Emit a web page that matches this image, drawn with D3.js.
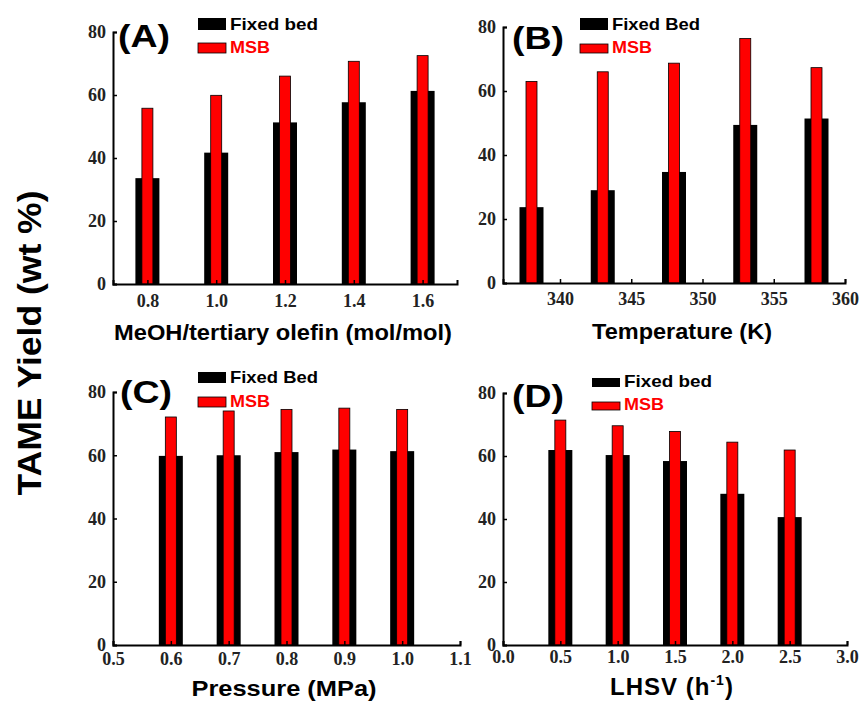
<!DOCTYPE html>
<html>
<head>
<meta charset="utf-8">
<script src="https://cdn.jsdelivr.net/npm/d3@7"></script>
<style>
  body { margin: 0; background: #fff; }
  svg { display: block; }
</style>
</head>
<body>
<div id="viz"></div>
<script>
// (A) MeOH / tertiary olefin ratio
const ratioCats = [0.8, 1.0, 1.2, 1.4, 1.6];
const ratioFixed = [33.6, 41.7, 51.3, 57.7, 61.3];
const ratioMSB = [55.8, 59.9, 66.0, 70.7, 72.5];
const ratioTicks = [0.8, 1.0, 1.2, 1.4, 1.6];

// (B) temperature
const tempCats = [338, 343, 348, 353, 358];
const tempFixed = [23.7, 29.0, 34.7, 49.4, 51.4];
const tempMSB = [63.0, 66.0, 68.7, 76.4, 67.3];
const tempTicks = [340, 345, 350, 355, 360];

// (C) pressure
const pressCats = [0.6, 0.7, 0.8, 0.9, 1.0];
const pressFixed = [59.8, 60.0, 61.0, 61.8, 61.3];
const pressMSB = [72.1, 74.0, 74.5, 74.9, 74.5];
const pressTicks = [0.5, 0.6, 0.7, 0.8, 0.9, 1.0, 1.1];

// (D) LHSV
const lhsvCats = [0.5, 1.0, 1.5, 2.0, 2.5];
const lhsvFixed = [61.9, 60.3, 58.4, 48.0, 40.6];
const lhsvMSB = [71.4, 69.6, 67.8, 64.4, 61.9];
const lhsvTicks = [0.0, 0.5, 1.0, 1.5, 2.0, 2.5, 3.0];

const yTicks = [0, 20, 40, 60, 80];

document.addEventListener("DOMContentLoaded", () => {
  const svg = d3.select("#viz")
    .append("svg")
    .attr("width", 861)
    .attr("height", 704);

  svg.append("rect").attr("width", 861).attr("height", 704).attr("fill", "#fff");

  const panels = [
    {tag: "(A)", cats: ratioCats, fixed: ratioFixed, msb: ratioMSB, ticks: ratioTicks, fmt: d3.format(".1f"),
     domain: [0.7, 1.7], x0: 113, x1: 457, y0: 32, y1: 284, pad: 10,
     title: "MeOH/tertiary olefin (mol/mol)", titleX: 283, titleY: 340, titleLen: 338,
     fixedName: "Fixed bed", leg: {x: 198, y: 18, h1: 12, y2: 43, h2: 10}, tagPos: [118, 47]},
    {tag: "(B)", cats: tempCats, fixed: tempFixed, msb: tempMSB, ticks: tempTicks, fmt: d3.format("d"),
     domain: [336, 360], x0: 503, x1: 845, y0: 27, y1: 283, pad: 9,
     title: "Temperature (K)", titleX: 682, titleY: 339, titleLen: 180,
     fixedName: "Fixed Bed", leg: {x: 580, y: 18, h1: 12, y2: 44, h2: 9}, tagPos: [512, 49]},
    {tag: "(C)", cats: pressCats, fixed: pressFixed, msb: pressMSB, ticks: pressTicks, fmt: d3.format(".1f"),
     domain: [0.5, 1.1], x0: 113, x1: 460, y0: 392, y1: 645, pad: 7,
     title: "Pressure (MPa)", titleX: 284, titleY: 696, titleLen: 185,
     fixedName: "Fixed Bed", leg: {x: 198, y: 372, h1: 11, y2: 397, h2: 10}, tagPos: [120, 403]},
    {tag: "(D)", cats: lhsvCats, fixed: lhsvFixed, msb: lhsvMSB, ticks: lhsvTicks, fmt: d3.format(".1f"),
     domain: [0, 3], x0: 503, x1: 847, y0: 393, y1: 645, pad: 5,
     title: "LHSV (h", titleX: 672, titleY: 695, titleLen: 0,
     fixedName: "Fixed bed", leg: {x: 592, y: 378, h1: 9, y2: 402, h2: 8}, tagPos: [512, 407]}
  ];

  panels.forEach(p => drawPanel(p));

  // shared y title
  svg.append("text")
    .attr("transform", "translate(41,343) rotate(-90)")
    .attr("text-anchor", "middle")
    .attr("font-family", "'Liberation Sans', Arial, sans-serif")
    .attr("font-weight", "bold")
    .attr("font-size", 34)
    .attr("textLength", 305)
    .attr("lengthAdjust", "spacingAndGlyphs")
    .text("TAME Yield (wt %)");

  function drawPanel(p) {
    const x = d3.scaleLinear().domain(p.domain).range([p.x0, p.x1]);
    const y = d3.scaleLinear().domain([0, 80]).range([p.y1, p.y0]);
    const g = svg.append("g");

    const bars = p.cats.map((c, i) => ({c: c, fixed: p.fixed[i], msb: p.msb[i]}));

    g.selectAll(".fixed")
      .data(bars)
      .join("rect")
      .attr("class", "fixed")
      .attr("x", d => x(d.c) - 12)
      .attr("width", 24)
      .attr("y", d => y(d.fixed))
      .attr("height", d => y(0) - y(d.fixed))
      .attr("fill", "#000");

    g.selectAll(".msb")
      .data(bars)
      .join("rect")
      .attr("class", "msb")
      .attr("x", d => x(d.c) - 5.5)
      .attr("width", 11)
      .attr("y", d => y(d.msb))
      .attr("height", d => y(0) - y(d.msb))
      .attr("fill", "#ff0000")
      .attr("stroke", "#000")
      .attr("stroke-width", 0.8);

    const xAxis = g.append("g")
      .attr("transform", `translate(0,${p.y1})`)
      .call(d3.axisBottom(x).tickValues(p.ticks).tickFormat(p.fmt)
        .tickSizeInner(-4).tickSizeOuter(-4).tickPadding(p.pad));

    const yAxis = g.append("g")
      .attr("transform", `translate(${p.x0},0)`)
      .call(d3.axisLeft(y).tickValues(yTicks)
        .tickSizeInner(-4).tickSizeOuter(-4).tickPadding(7));

    [xAxis, yAxis].forEach(a => {
      a.select(".domain").attr("stroke-width", 2);
      a.selectAll(".tick line").attr("stroke-width", 1.5);
      a.selectAll("text")
        .attr("font-family", "'Liberation Serif', 'Times New Roman', serif")
        .attr("font-weight", "bold")
        .attr("font-size", 18)
        .attr("fill", "#222");
    });

    // panel tag
    g.append("text")
      .attr("x", p.tagPos[0])
      .attr("y", p.tagPos[1])
      .attr("font-family", "'Liberation Sans', Arial, sans-serif")
      .attr("font-weight", "bold")
      .attr("font-size", 32)
      .attr("textLength", 52)
      .attr("lengthAdjust", "spacingAndGlyphs")
      .text(p.tag);

    // legend
    const L = p.leg;
    g.append("rect").attr("x", L.x).attr("y", L.y).attr("width", 28).attr("height", L.h1).attr("fill", "#000");
    g.append("rect").attr("x", L.x).attr("y", L.y2).attr("width", 28).attr("height", L.h2)
      .attr("fill", "#ff0000").attr("stroke", "#000").attr("stroke-width", 0.8);
    g.append("text")
      .attr("x", L.x + 32).attr("y", L.y + L.h1)
      .attr("font-family", "'Liberation Sans', Arial, sans-serif")
      .attr("font-weight", "bold").attr("font-size", 17)
      .attr("textLength", 88).attr("lengthAdjust", "spacingAndGlyphs")
      .text(p.fixedName);
    g.append("text")
      .attr("x", L.x + 32).attr("y", L.y2 + L.h2)
      .attr("font-family", "'Liberation Sans', Arial, sans-serif")
      .attr("font-weight", "bold").attr("font-size", 17)
      .attr("textLength", 40).attr("lengthAdjust", "spacingAndGlyphs")
      .attr("fill", "#ff0000")
      .text("MSB");

    // x title
    const t = g.append("text")
      .attr("x", p.titleX)
      .attr("y", p.titleY)
      .attr("text-anchor", "middle")
      .attr("font-family", "'Liberation Sans', Arial, sans-serif")
      .attr("font-weight", "bold")
      .attr("font-size", 22);
    if (p.titleLen) {
      t.attr("textLength", p.titleLen).attr("lengthAdjust", "spacingAndGlyphs").text(p.title);
    } else {
      t.attr("font-size", 24).attr("letter-spacing", 1);
      t.append("tspan").text("LHSV (h");
      t.append("tspan").attr("font-size", 14).attr("dy", -10).text("-1");
      t.append("tspan").attr("dy", 10).text(")");
    }
  }
});
</script>
</body>
</html>
